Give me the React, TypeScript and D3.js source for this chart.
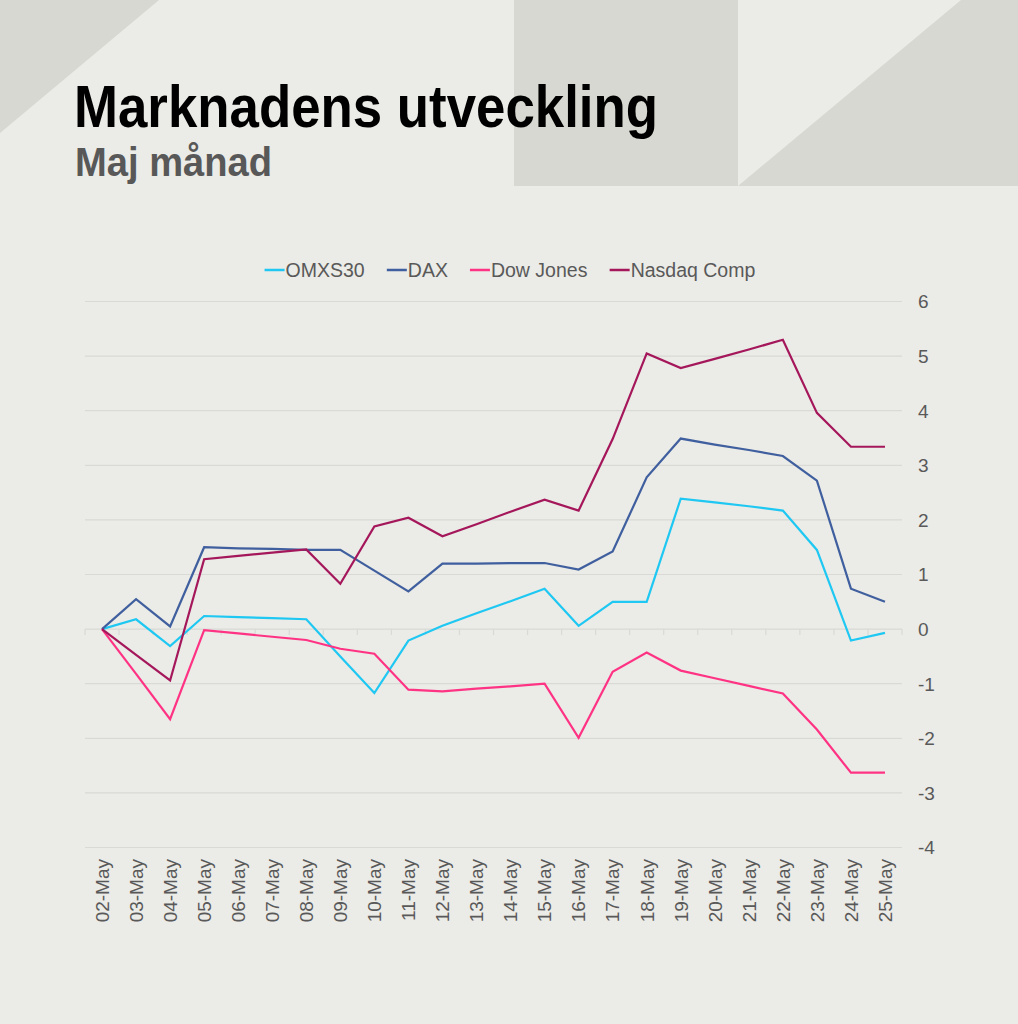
import { useEffect, useRef } from "react";
import * as d3 from "d3";

// day labels (calendar days, weekends carry the previous value on a straight segment)
const dates = [
  "02-May", "03-May", "04-May", "05-May", "06-May", "07-May", "08-May", "09-May",
  "10-May", "11-May", "12-May", "13-May", "14-May", "15-May", "16-May", "17-May",
  "18-May", "19-May", "20-May", "21-May", "22-May", "23-May", "24-May", "25-May",
];

const omxs30 = [0, 0.18, -0.31, 0.24, 0.22, 0.2, 0.18, -0.5, -1.17, -0.21, 0.06, 0.29, 0.51, 0.74, 0.06, 0.5, 0.5, 2.39, 2.32, 2.25, 2.17, 1.45, -0.21, -0.07];
const dax = [0, 0.55, 0.05, 1.5, 1.48, 1.47, 1.45, 1.45, 1.07, 0.69, 1.2, 1.2, 1.21, 1.21, 1.09, 1.42, 2.78, 3.49, 3.38, 3.28, 3.17, 2.72, 0.74, 0.5];
const dowJones = [0, -0.82, -1.65, -0.02, -0.08, -0.14, -0.2, -0.36, -0.45, -1.11, -1.14, -1.09, -1.05, -1.0, -1.99, -0.78, -0.43, -0.76, -0.9, -1.04, -1.18, -1.84, -2.63, -2.63];
const nasdaq = [0, -0.47, -0.94, 1.28, 1.34, 1.4, 1.46, 0.83, 1.88, 2.04, 1.7, 1.92, 2.15, 2.37, 2.17, 3.48, 5.05, 4.78, 4.95, 5.12, 5.3, 3.96, 3.34, 3.34];

const seriesNames = ["OMXS30", "DAX", "Dow Jones", "Nasdaq Comp"];
const seriesColors = ["#1ec8f2", "#3f5f9e", "#ff3384", "#a5175b"];
const yTicks = [6, 5, 4, 3, 2, 1, 0, -1, -2, -3, -4];

const W = 1018;
const H = 1024;
const FONT = "'Liberation Sans', Arial, sans-serif";

export default function App() {
  const svgRef = useRef<SVGSVGElement>(null);

  useEffect(() => {
    const svg = d3.select(svgRef.current);
    svg.selectAll("*").remove();

    // background + decorative shapes
    svg.append("rect").attr("width", W).attr("height", H).attr("fill", "#ebebe7");
    const deco = "#d8d8d2";
    svg.append("path").attr("d", "M0,0 L159,0 L0,133 Z").attr("fill", deco);
    svg.append("rect").attr("x", 514).attr("y", 0).attr("width", 224).attr("height", 186).attr("fill", deco);
    svg.append("path").attr("d", "M738,186 L961,0 L1018,0 L1018,186 Z").attr("fill", deco);

    // title
    svg.append("text")
      .attr("x", 74).attr("y", 127)
      .attr("font-family", FONT).attr("font-weight", 700).attr("font-size", 60)
      .attr("textLength", 584).attr("lengthAdjust", "spacingAndGlyphs")
      .attr("fill", "#000")
      .text("Marknadens utveckling");
    svg.append("text")
      .attr("x", 75).attr("y", 176)
      .attr("font-family", FONT).attr("font-weight", 700).attr("font-size", 40)
      .attr("textLength", 197).attr("lengthAdjust", "spacingAndGlyphs")
      .attr("fill", "#585858")
      .text("Maj månad");

    const series = [omxs30, dax, dowJones, nasdaq];

    const x = d3.scaleBand<string>().domain(dates).range([85, 902]).paddingInner(0).paddingOuter(0);
    const y = d3.scaleLinear().domain([-4, 6]).range([847.5, 301.5]);
    const cx = (d: string) => (x(d) ?? 0) + x.bandwidth() / 2;

    // grid
    const grid = svg.append("g");
    grid.selectAll("line")
      .data(yTicks)
      .join("line")
      .attr("x1", 85).attr("x2", 902)
      .attr("y1", (d) => y(d)).attr("y2", (d) => y(d))
      .attr("stroke", "#d9d9d6").attr("stroke-width", 1.2);

    // category ticks on the zero line
    const bounds = dates.map((d) => x(d) ?? 0).concat([902]);
    grid.selectAll(".tk")
      .data(bounds)
      .join("line")
      .attr("class", "tk")
      .attr("x1", (d) => d).attr("x2", (d) => d)
      .attr("y1", y(0)).attr("y2", y(0) + 6)
      .attr("stroke", "#d9d9d6").attr("stroke-width", 1.2);

    // y labels on the right
    svg.append("g").selectAll("text")
      .data(yTicks)
      .join("text")
      .attr("x", 918).attr("y", (d) => y(d))
      .attr("dy", "0.36em")
      .attr("font-family", FONT).attr("font-size", 19)
      .attr("fill", "#595959")
      .text((d) => String(d));

    // x labels rotated
    svg.append("g").selectAll("text")
      .data(dates)
      .join("text")
      .attr("transform", (d) => `translate(${cx(d)},859) rotate(-90)`)
      .attr("dy", "0.36em")
      .attr("text-anchor", "end")
      .attr("font-family", FONT).attr("font-size", 19)
      .attr("fill", "#595959")
      .text((d) => d);

    // lines
    const line = d3.line<number>()
      .x((_, i) => cx(dates[i]))
      .y((v) => y(v));
    svg.append("g").selectAll("path")
      .data(series)
      .join("path")
      .attr("d", (s) => line(s))
      .attr("fill", "none")
      .attr("stroke", (_, i) => seriesColors[i])
      .attr("stroke-width", 2.2)
      .attr("stroke-linejoin", "miter");

    // legend, centered
    const legend = svg.append("g");
    const items = legend.selectAll("g")
      .data(seriesNames)
      .join("g");
    items.append("line")
      .attr("x1", 0).attr("x2", 20).attr("y1", 270).attr("y2", 270)
      .attr("stroke", (_, i) => seriesColors[i]).attr("stroke-width", 2.5);
    items.append("text")
      .attr("x", 21).attr("y", 270).attr("dy", "0.36em")
      .attr("font-family", FONT).attr("font-size", 19.5)
      .attr("fill", "#595959")
      .text((d) => d);
    const widths: number[] = [];
    items.each(function () {
      widths.push((this as SVGGElement).getBBox().width);
    });
    const gap = 22;
    const total = d3.sum(widths) + gap * (widths.length - 1);
    let pos = 510 - total / 2;
    items.attr("transform", (_, i) => {
      const t = `translate(${pos},0)`;
      pos += widths[i] + gap;
      return t;
    });
  }, []);

  return (
    <svg
      ref={svgRef}
      width={W}
      height={H}
      style={{ position: "absolute", left: 0, top: 0, display: "block" }}
    />
  );
}
